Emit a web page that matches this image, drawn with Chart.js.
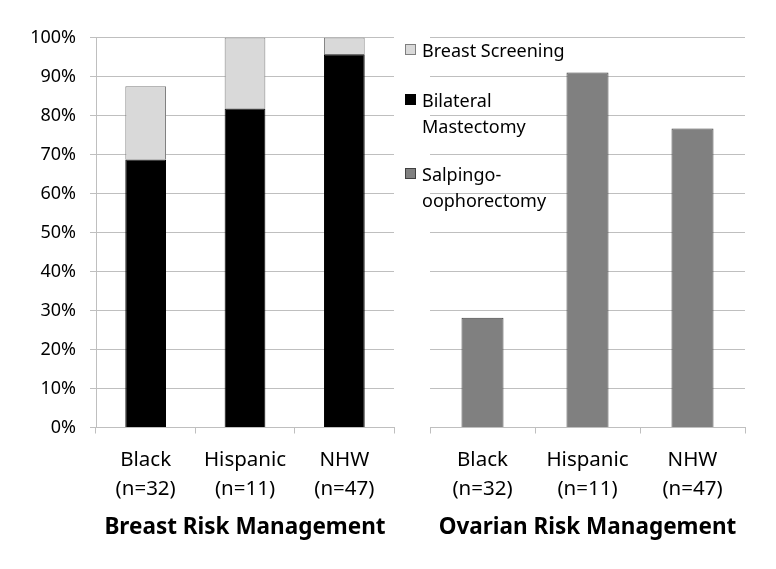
<!DOCTYPE html>
<html>
<head>
<meta charset="utf-8">
<script src="https://cdn.jsdelivr.net/npm/chart.js@4.4.1/dist/chart.umd.min.js"></script>
<style>
  body { margin: 0; background: #fff; }
  .wrap { position: relative; width: 776px; height: 569px; }
  .wrap canvas { position: absolute; left: 0; top: 0; }
  .legend { position: absolute; left: 405px; top: 37px; font-family: 'Noto Sans'; font-size: 18px; color: #000; }
  .legItem { position: absolute; left: 0; white-space: nowrap; line-height: 26px; }
  .legBox { position: absolute; left: 0; width: 11px; height: 11px; box-sizing: border-box; }
  .legText { position: absolute; left: 17px; top: 0; }
</style>
</head>
<body>
<div class="wrap">
  <canvas id="breastChart" width="776" height="569"></canvas>
  <canvas id="ovarianChart" width="776" height="569"></canvas>
  <div class="legend" id="legend"></div>
</div>
<script>
// categories
const groups = [['Black', '(n=32)'], ['Hispanic', '(n=11)'], ['NHW', '(n=47)']];

// series values (percent)
const mastectomy = [68.75, 81.8, 95.7];
const screening = [18.75, 18.2, 4.3];
const salpingo = [28.1, 90.9, 76.6];

const yTicks = [0, 10, 20, 30, 40, 50, 60, 70, 80, 90, 100];

const legendNames = [['Breast Screening'], ['Bilateral', 'Mastectomy'], ['Salpingo-', 'oophorectomy']];
const legendColors = ['#d9d9d9', '#000000', '#808080'];
const legendBorders = ['#7f7f7f', '#000000', '#404040'];

Chart.defaults.font.family = 'Noto Sans';
Chart.defaults.font.size = 18;
Chart.defaults.color = '#000';

const gridColor = '#bfbfbf';

function xAxis(title) {
  return {
    stacked: true,
    offset: true,
    grid: { drawOnChartArea: false, offset: true, tickLength: 6, color: gridColor },
    border: { display: true, color: gridColor },
    ticks: { padding: 11.5, font: { size: 20.5, lineHeight: 1.44 }, maxRotation: 0 },
    title: { display: true, text: title, font: { size: 22.5, weight: 'bold' }, padding: { top: 0, bottom: 27.5 } },
    afterFit: (scale) => { scale.height = 141.5; }
  };
}

new Chart(document.getElementById('breastChart'), {
  type: 'bar',
  data: {
    labels: groups,
    datasets: [
      { label: 'Bilateral Mastectomy', data: mastectomy, backgroundColor: '#000', borderColor: '#000', borderWidth: 1 },
      { label: 'Breast Screening', data: screening, backgroundColor: '#d9d9d9', borderColor: '#7f7f7f', borderWidth: 1 }
    ]
  },
  options: {
    responsive: false,
    animation: false,
    devicePixelRatio: 1,
    layout: { padding: { left: 0, top: 37.5, right: 776 - 394, bottom: 0 } },
    datasets: { bar: { categoryPercentage: 1, barPercentage: 0.41 } },
    plugins: { legend: { display: false }, tooltip: { enabled: false } },
    scales: {
      x: xAxis('Breast Risk Management'),
      y: {
        stacked: true,
        min: 0, max: 100,
        afterBuildTicks: (scale) => { scale.ticks = yTicks.map(v => ({ value: v })); },
        grid: { color: gridColor, tickLength: 6 },
        border: { display: true, color: gridColor },
        ticks: { padding: 14, callback: (v) => v + '%' },
        afterFit: (scale) => { scale.width = 96; }
      }
    }
  }
});

new Chart(document.getElementById('ovarianChart'), {
  type: 'bar',
  data: {
    labels: groups,
    datasets: [
      { label: 'Salpingo-oophorectomy', data: salpingo, backgroundColor: '#808080', borderColor: '#404040', borderWidth: 1 }
    ]
  },
  options: {
    responsive: false,
    animation: false,
    devicePixelRatio: 1,
    layout: { padding: { left: 430, top: 37, right: 776 - 745, bottom: 0 } },
    datasets: { bar: { categoryPercentage: 1, barPercentage: 0.40 } },
    plugins: { legend: { display: false }, tooltip: { enabled: false } },
    scales: {
      x: xAxis('Ovarian Risk Management'),
      y: {
        min: 0, max: 100,
        afterBuildTicks: (scale) => { scale.ticks = yTicks.map(v => ({ value: v })); },
        grid: { color: gridColor, drawTicks: false },
        border: { display: false },
        ticks: { display: false },
        afterFit: (scale) => { scale.width = 0; }
      }
    }
  }
});

// legend (html, drawn over the right panel like the original)
const legendTops = [0, 50, 124];
const legend = document.getElementById('legend');
legendNames.forEach((lines, i) => {
  const item = document.createElement('div');
  item.className = 'legItem';
  item.style.top = legendTops[i] + 'px';
  const box = document.createElement('div');
  box.className = 'legBox';
  box.style.top = '7px';
  box.style.background = legendColors[i];
  box.style.border = '1px solid ' + legendBorders[i];
  const txt = document.createElement('div');
  txt.className = 'legText';
  txt.innerHTML = lines.join('<br>');
  item.appendChild(box);
  item.appendChild(txt);
  legend.appendChild(item);
});
</script>
</body>
</html>
